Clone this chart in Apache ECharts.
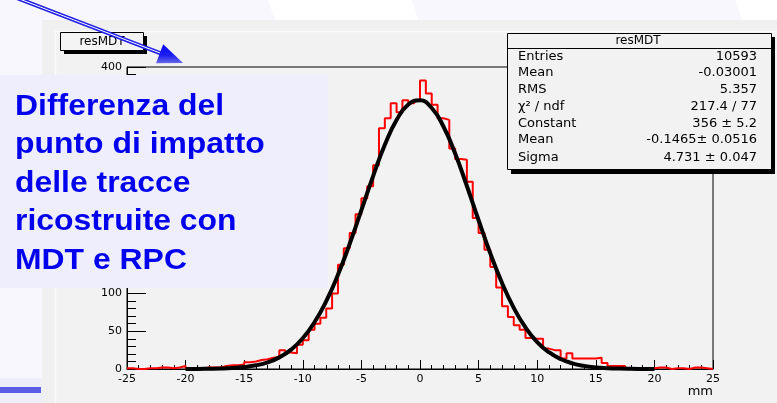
<!DOCTYPE html>
<html>
<head>
<meta charset="utf-8">
<script src="https://cdn.jsdelivr.net/npm/echarts@6/dist/echarts.min.js"></script>
<style>
html,body{margin:0;padding:0;background:#f7f7fd;}
#chart{width:777px;height:403px;}
</style>
</head>
<body>
<div id="chart"></div>
<script>
// ---- data ----
const binLow = -25;
const binWidth = 0.5;
const counts = [
  1, 0, 0, 1, 1, 2, 2, 1, 2, 4,
  1, 1, 1, 2, 2, 2, 4, 5, 5, 6,
  9, 10, 12, 13, 15, 16, 25, 22, 21, 32,
  38, 52, 60, 68, 80, 100, 138, 160, 180, 205,
  226, 242, 270, 319, 332, 352, 340, 356, 352, 355,
  382, 365, 350, 332, 330, 292, 278, 277, 248, 200,
  180, 158, 135, 108, 83, 69, 58, 52, 41, 40,
  40, 27, 25, 25, 14, 21, 14, 14, 14, 14,
  15, 8, 4, 4, 4, 1, 1, 1, 1, 1,
  2, 2, 0, 1, 1, 0, 2, 2, 1, 0
];
const fitX = [-20,-19,-18,-17,-16,-15,-14,-13,-12,-11,-10,-9,-8,-7,-6,-5,-4,-3,-2,-1,0,
              1,2,3,4,5,6,7,8,9,10,11,12,13,14,15,16,17,18,19,20];
const fitY = [0.1,0.1,0.3,0.6,1.3,2.6,4.9,8.9,15.4,25.6,40.7,61.9,89.8,124.7,165.7,210.4,255.5,296.9,329.7,350.3,355.8,
              345.7,321.2,285.4,242.4,197.0,153.1,113.8,80.9,55.0,35.7,22.2,13.2,7.5,4.1,2.1,1.1,0.5,0.2,0.1,0.04];
const histTitle = 'resMDT';
const statLabels = ['Entries', 'Mean', 'RMS', 'χ² / ndf', 'Constant', 'Mean', 'Sigma'];
const statValues = ['10593', '-0.03001', '5.357', '217.4 / 77', '356 ± 5.2', '-0.1465± 0.0516', '4.731 ± 0.047'];
const xUnit = 'mm';
const noteLines = ['Differenza del', 'punto di impatto', 'delle tracce', 'ricostruite con', 'MDT e RPC'];

// ---- build ----
const histData = counts.map((c, i) => [binLow + i * binWidth, c]);
histData.push([binLow + counts.length * binWidth, counts[counts.length - 1]]);
const fitData = fitX.map((x, i) => [x, fitY[i]]);

const statRowsY = [57, 73, 90, 107, 124, 140, 158];
const graphics = [
  // slide background pieces
  {type:'rect', z:-100, shape:{x:0,y:0,width:777,height:403}, style:{fill:'#f7f7fd'}},
  {type:'polygon', z:-99, shape:{points:[[268,0],[412,0],[418,20],[275,20]]}, style:{fill:'#ffffff'}},
  {type:'polygon', z:-99, shape:{points:[[735,0],[777,0],[777,20],[742,20]]}, style:{fill:'#ffffff'}},
  // ROOT canvas
  {type:'rect', z:-98, shape:{x:42,y:20,width:735,height:383}, style:{fill:'#f0f0f0'}},
  {type:'rect', z:-97, shape:{x:55,y:31,width:722,height:372}, style:{fill:'#f2f2f2'}},
  {type:'line', z:-96, shape:{x1:55.5,y1:31,x2:55.5,y2:403}, style:{stroke:'#fbfbfb',lineWidth:1.5}},
  {type:'line', z:-96, shape:{x1:55,y1:31.5,x2:777,y2:31.5}, style:{stroke:'#fbfbfb',lineWidth:1.5}},
  // left strip bottom
  {type:'rect', z:-95, shape:{x:0,y:378,width:42,height:25}, style:{fill:'#eeedfa'}},
  {type:'rect', z:-94, shape:{x:0,y:387,width:41,height:6}, style:{fill:'#5b5be3'}},
  // histogram title box
  {type:'rect', z:50, shape:{x:64,y:36,width:83,height:18}, style:{fill:'#000'}},
  {type:'rect', z:51, shape:{x:60.5,y:32.5,width:83,height:18}, style:{fill:'#f4f4f4',stroke:'#000',lineWidth:1}},
  {type:'text', z:52, x:102, y:41.5, style:{text:histTitle, fill:'#000', font:"12px 'DejaVu Sans'", align:'center', verticalAlign:'middle'}},
  // stats box
  {type:'rect', z:50, shape:{x:511,y:37,width:264,height:137}, style:{fill:'#000'}},
  {type:'rect', z:51, shape:{x:507.5,y:33.5,width:264,height:136}, style:{fill:'#f2f2f2',stroke:'#000',lineWidth:1}},
  {type:'line', z:52, shape:{x1:507,y1:48.5,x2:771,y2:48.5}, style:{stroke:'#000',lineWidth:1}},
  {type:'text', z:52, x:638, y:41, style:{text:histTitle, fill:'#000', font:"12px 'DejaVu Sans'", align:'center', verticalAlign:'middle'}},
  // note box
  {type:'rect', z:100, shape:{x:0,y:75,width:328,height:213}, style:{fill:'#efeefc'}}
];
statLabels.forEach((s, i) => {
  graphics.push({type:'text', z:52, x:518, y:statRowsY[i], style:{text:s, fill:'#000', font:"13px 'DejaVu Sans'", align:'left', verticalAlign:'middle'}});
  graphics.push({type:'text', z:52, x:757, y:statRowsY[i], style:{text:statValues[i], fill:'#000', font:"13px 'DejaVu Sans'", align:'right', verticalAlign:'middle'}});
});
noteLines.forEach((s, i) => {
  graphics.push({type:'text', z:101, x:15, y:107 + i * 38.4, scaleX:1.1, style:{text:s, fill:'#0000ee', font:"bold 29px 'Liberation Sans'", align:'left', verticalAlign:'middle'}});
});
graphics.push({type:'text', z:52, x:713, y:392, style:{text:xUnit, fill:'#000', font:"13px 'DejaVu Sans'", align:'right', verticalAlign:'middle'}});
// arrow
graphics.push({type:'line', z:110, shape:{x1:8,y1:-5.4,x2:162,y2:53.8}, style:{stroke:'#1f1fe8',lineWidth:4}});
graphics.push({type:'line', z:111, shape:{x1:8,y1:-5.4,x2:160,y2:53}, style:{stroke:'#ffffff',lineWidth:1}});
graphics.push({type:'polygon', z:112, shape:{points:[[183,63],[163.2,44.2],[156,63.3]]},
  style:{fill:{type:'linear',x:0,y:0,x2:0,y2:1,colorStops:[{offset:0,color:'#0505f5'},{offset:0.6,color:'#2020f0'},{offset:1,color:'#6a6ae8'}]}}});

const chart = echarts.init(document.getElementById('chart'), null, {renderer:'canvas', width:777, height:403});
chart.setOption({
  animation: false,
  backgroundColor: 'transparent',
  grid: {left:127, top:67, right:64, bottom:34, show:true, borderColor:'#000', borderWidth:1, backgroundColor:'transparent'},
  xAxis: {
    type:'value', min:-25, max:25, interval:5,
    axisLine:{show:true, onZero:false, lineStyle:{color:'#000', width:1}},
    axisTick:{show:true, inside:true, length:9, lineStyle:{color:'#000', width:1}},
    minorTick:{show:true, splitNumber:5, length:4, lineStyle:{color:'#000', width:1}},
    splitLine:{show:false},
    axisLabel:{color:'#000', fontFamily:'DejaVu Sans', fontSize:11, margin:5}
  },
  yAxis: {
    type:'value', min:0, max:400, interval:50,
    axisLine:{show:true, onZero:false, lineStyle:{color:'#000', width:1}},
    axisTick:{show:true, inside:true, length:19, lineStyle:{color:'#000', width:1}},
    minorTick:{show:true, splitNumber:5, length:9, lineStyle:{color:'#000', width:1}},
    splitLine:{show:false},
    axisLabel:{color:'#000', fontFamily:'DejaVu Sans', fontSize:11, margin:5}
  },
  series: [
    {type:'line', data:histData, step:'end', symbol:'none', z:3,
     lineStyle:{color:'#ff0000', width:2}},
    {type:'line', data:fitData, smooth:true, symbol:'none', z:4,
     lineStyle:{color:'#000000', width:4}}
  ],
  graphic: graphics
});
</script>
</body>
</html>
